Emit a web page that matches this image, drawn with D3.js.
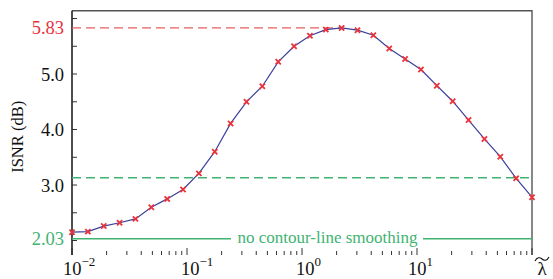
<!DOCTYPE html>
<html>
<head>
<meta charset="utf-8">
<script src="https://cdn.jsdelivr.net/npm/d3@7"></script>
<style>
  body { margin: 0; background: #fff; }
  svg { display: block; font-family: "Liberation Serif", "Times New Roman", "DejaVu Serif", serif; }
</style>
</head>
<body>
<div id="chart"></div>
<script>
// ISNR against smoothing parameter (30 log-spaced samples, 1e-2 .. 1e2)
const lambdaExp = d3.range(30).map(k => -2 + 4 * k / 29);
const isnr = [2.15, 2.16, 2.26, 2.32, 2.39, 2.60, 2.75, 2.92, 3.21, 3.60,
              4.11, 4.50, 4.78, 5.22, 5.50, 5.69, 5.80, 5.83, 5.79, 5.70,
              5.46, 5.27, 5.08, 4.79, 4.51, 4.17, 3.83, 3.51, 3.12, 2.78];
const peakValue = 5.83;
const peakIndex = 17;
const baselineValue = 2.03;
const refLevel = 3.13;
const yTickLabels = [3.0, 4.0, 5.0];
const xDecades = [-2, -1, 0, 1, 2];

const W = 553, H = 279;
const plotL = 72, plotR = 532, plotT = 10.7, plotB = 255;

const svg = d3.select("#chart").append("svg")
    .attr("width", W).attr("height", H);

const x = d3.scaleLog().domain([0.01, 100]).range([plotL, plotR]);
const y = d3.scaleLinear().domain([1.739, 6.141]).range([plotB, plotT]);

const green = "#3fb372", red = "#e8323c";

// frame
svg.append("path")
    .attr("d", `M${plotL},${plotT}H${plotR}V${plotB}`)
    .attr("fill", "none").attr("stroke", "#555").attr("stroke-width", 1.4);

// x ticks (inward)
const minor = [];
xDecades.slice(0, -1).forEach(e => {
    for (let m = 2; m <= 9; m++) minor.push(m * Math.pow(10, e));
});
svg.append("g").selectAll("line").data(minor).enter().append("line")
    .attr("x1", d => x(d)).attr("x2", d => x(d))
    .attr("y1", plotB).attr("y2", plotB - 4)
    .attr("stroke", "#333").attr("stroke-width", 1);
svg.append("g").selectAll("line").data(xDecades).enter().append("line")
    .attr("x1", d => x(Math.pow(10, d))).attr("x2", d => x(Math.pow(10, d)))
    .attr("y1", plotB).attr("y2", plotB - 7)
    .attr("stroke", "#333").attr("stroke-width", 1);

// x tick labels 10^e
const xl = svg.append("g").selectAll("text").data(xDecades.slice(0, -1)).enter().append("text")
    .attr("x", d => x(Math.pow(10, d)) - (d === -2 || d === 1 ? 9 : 6))
    .attr("y", 275)
    .attr("font-size", 18.5)
    .attr("fill", "#111");
xl.append("tspan").text("10");
xl.append("tspan").attr("dy", -9).attr("font-size", 13)
    .text(d => d < 0 ? "\u2212" + (-d) : String(d));

// y ticks (inward)
const yTicks = d3.range(2.0, 6.01, 0.5);
svg.append("g").selectAll("line").data(yTicks).enter().append("line")
    .attr("x1", plotL).attr("x2", plotL + 5)
    .attr("y1", d => y(d)).attr("y2", d => y(d))
    .attr("stroke", "#333").attr("stroke-width", 1);

svg.append("g").selectAll("text").data(yTickLabels).enter().append("text")
    .attr("x", 64).attr("y", d => y(d) + 6.5)
    .attr("text-anchor", "end").attr("font-size", 18.5).attr("fill", "#111")
    .text(d => d.toFixed(1));

svg.append("text").attr("x", 64).attr("y", y(peakValue) + 6.5)
    .attr("text-anchor", "end").attr("font-size", 18.5).attr("fill", red)
    .text(peakValue.toFixed(2));
svg.append("text").attr("x", 64).attr("y", y(baselineValue) + 6.5)
    .attr("text-anchor", "end").attr("font-size", 18.5).attr("fill", green)
    .text(baselineValue.toFixed(2));

// left axis
svg.append("line").attr("x1", plotL).attr("x2", plotL)
    .attr("y1", plotT).attr("y2", plotB)
    .attr("stroke", "#222").attr("stroke-width", 1.6);

// reference lines
svg.append("line")
    .attr("x1", plotL).attr("x2", x(Math.pow(10, lambdaExp[peakIndex])))
    .attr("y1", y(peakValue)).attr("y2", y(peakValue))
    .attr("stroke", "#e86060").attr("stroke-width", 1.3)
    .attr("stroke-dasharray", "9,5");

svg.append("line")
    .attr("x1", plotL).attr("x2", plotR)
    .attr("y1", y(refLevel)).attr("y2", y(refLevel))
    .attr("stroke", green).attr("stroke-width", 1.5)
    .attr("stroke-dasharray", "9,5");

const yb = y(baselineValue);
svg.append("line").attr("x1", plotL).attr("x2", 231)
    .attr("y1", yb).attr("y2", yb).attr("stroke", green).attr("stroke-width", 1.5);
svg.append("line").attr("x1", 423).attr("x2", plotR)
    .attr("y1", yb).attr("y2", yb).attr("stroke", green).attr("stroke-width", 1.5);
svg.append("text").attr("x", 327.5).attr("y", yb + 4.5)
    .attr("text-anchor", "middle").attr("font-size", 17).attr("fill", green)
    .text("no contour-line smoothing");

// curve
const pts = lambdaExp.map((e, i) => [Math.pow(10, e), isnr[i]]);
svg.append("path").datum(pts)
    .attr("d", d3.line().x(d => x(d[0])).y(d => y(d[1])))
    .attr("fill", "none").attr("stroke", "#3a3f9c").attr("stroke-width", 1.2);

const s = 2.6;
svg.append("g").selectAll("path").data(pts).enter().append("path")
    .attr("d", d => {
        const cx = x(d[0]), cy = y(d[1]);
        return `M${cx - s},${cy - s}L${cx + s},${cy + s}M${cx - s},${cy + s}L${cx + s},${cy - s}`;
    })
    .attr("stroke", red).attr("stroke-width", 1.8).attr("fill", "none");

// axis titles
svg.append("text")
    .attr("transform", `translate(23,${(plotT + plotB) / 2 + 4}) rotate(-90)`)
    .attr("text-anchor", "middle").attr("font-size", 16.5).attr("fill", "#111")
    .text("ISNR (dB)");

svg.append("text").attr("x", 542).attr("y", 275)
    .attr("text-anchor", "middle").attr("font-size", 19).attr("fill", "#111")
    .text("\u03bb");
svg.append("path")
    .attr("d", "M535,261 C537,257 540,257 542,259 C544,261 547,261 549,257")
    .attr("fill", "none").attr("stroke", "#111").attr("stroke-width", 1.1);
</script>
</body>
</html>
